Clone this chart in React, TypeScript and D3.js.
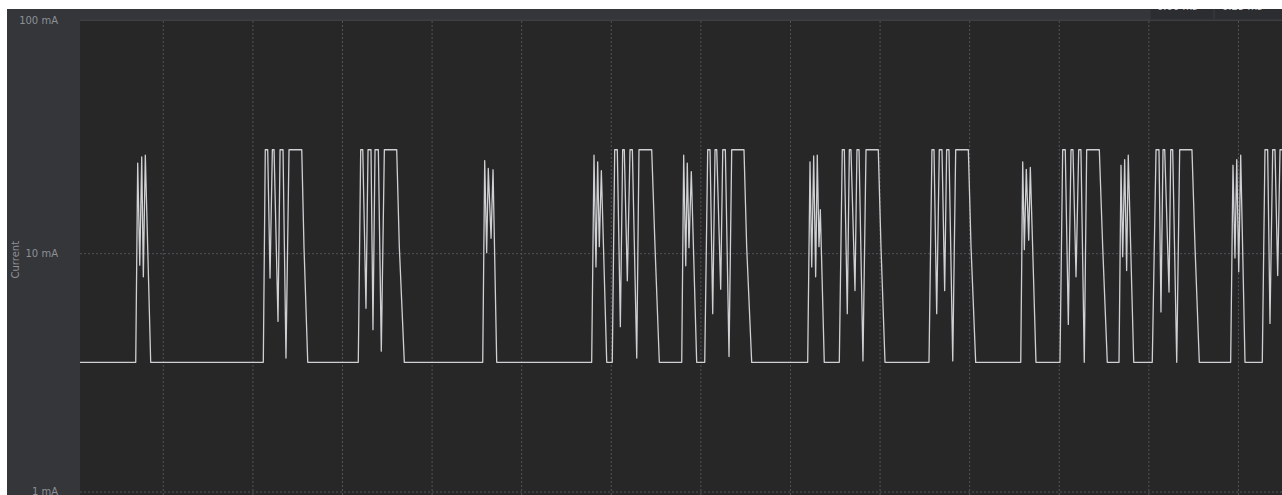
import React from "react"
import * as d3 from "d3"

// current trace: [time ms, current mA]
const trace: [number, number][] = [
  [0, 3.5],
  // burst 1
  [69.2, 3.5], [71.4, 24.0], [73.7, 8.95], [75.9, 25.5], [77.7, 8.0], [79.9, 25.9], [85.9, 3.5],
  // burst 2
  [211.6, 3.5], [213.8, 27.3], [216.5, 27.3], [219.1, 7.9], [221.7, 27.3], [223.6, 27.3],
  [228.0, 5.2], [230.3, 27.3], [233.6, 27.3], [236.9, 3.65], [240.3, 27.3], [254.5, 27.3],
  [257.0, 10.7], [261.2, 3.5],
  // burst 3
  [317.6, 3.5], [320.3, 27.3], [322.6, 27.3], [326.2, 5.9], [328.5, 27.3], [331.8, 27.3],
  [334.0, 4.8], [336.3, 27.3], [340.0, 27.3], [343.3, 3.9], [346.7, 27.3], [360.5, 27.3],
  [363.4, 10.7], [369.0, 3.5],
  // burst 4
  [456.5, 3.5], [458.7, 24.6], [460.9, 10.1], [462.7, 22.8], [465.8, 11.6], [468.0, 22.5], [472.1, 3.5],
  // burst 5
  [578.1, 3.5], [580.7, 25.9], [582.9, 8.8], [584.8, 24.3], [586.6, 10.7], [588.9, 22.3], [594.9, 3.5],
  // burst 6
  [601.1, 3.5], [603.8, 27.3], [606.7, 27.3], [610.1, 4.94], [612.7, 27.3], [614.5, 27.3],
  [617.9, 7.7], [620.9, 27.3], [623.5, 27.3], [628.4, 3.65], [630.9, 27.3], [645.1, 27.3],
  [648.8, 10.7], [653.6, 3.5],
  // burst 7
  [678.6, 3.5], [680.8, 25.9], [683.1, 8.9], [684.8, 24.0], [686.7, 10.6], [689.3, 22.1], [695.3, 3.5],
  // burst 8
  [704.3, 3.5], [707.6, 27.3], [710.2, 27.3], [713.2, 5.6], [715.8, 27.3], [717.7, 27.3],
  [722.1, 7.1], [724.4, 27.3], [727.3, 27.3], [731.4, 3.7], [734.4, 27.3], [748.1, 27.3],
  [751.1, 10.7], [756.7, 3.5],
  // burst 9
  [819.2, 3.5], [821.8, 24.3], [823.7, 8.8], [825.9, 25.7], [828.1, 8.0], [829.9, 25.9],
  [831.8, 10.7], [833.3, 15.3], [837.7, 3.5],
  // burst 10
  [854.5, 3.5], [857.8, 27.3], [860.1, 27.3], [863.4, 5.6], [865.7, 27.3], [867.5, 27.3],
  [872.0, 7.0], [874.2, 27.3], [876.5, 27.3], [880.9, 3.55], [884.3, 27.3], [898.0, 27.3],
  [901.0, 10.7], [905.5, 3.5],
  // burst 11
  [954.6, 3.5], [957.9, 27.3], [960.2, 27.3], [963.2, 5.6], [966.1, 27.3], [969.1, 27.3],
  [972.1, 7.0], [974.3, 27.3], [976.9, 27.3], [981.1, 3.55], [984.4, 27.3], [998.5, 27.3],
  [1001.5, 10.7], [1006.7, 3.5],
  // burst 12
  [1057.0, 3.5], [1059.2, 24.3], [1061.0, 10.4], [1063.2, 22.6], [1065.9, 11.4], [1067.7, 23.0], [1074.0, 3.5],
  // burst 13
  [1100.8, 3.5], [1103.8, 27.3], [1106.7, 27.3], [1110.1, 5.05], [1113.1, 27.3], [1115.3, 27.3],
  [1118.7, 8.0], [1121.7, 27.3], [1124.2, 27.3], [1127.9, 3.5], [1130.6, 27.3], [1144.7, 27.3],
  [1148.5, 10.6], [1153.6, 3.5],
  // burst 14
  [1166.7, 3.5], [1168.9, 23.5], [1170.8, 9.7], [1173.0, 24.8], [1175.2, 8.5], [1177.0, 25.9], [1183.1, 3.5],
  // burst 15
  [1203.8, 3.5], [1208.0, 27.3], [1211.3, 27.3], [1213.5, 5.7], [1215.8, 27.3], [1217.7, 27.3],
  [1222.5, 6.9], [1224.4, 27.3], [1226.6, 27.3], [1231.1, 3.5], [1234.4, 27.3], [1248.1, 27.3],
  [1251.5, 10.7], [1256.3, 3.5],
  // burst 16
  [1291.3, 3.5], [1293.9, 23.5], [1296.1, 9.6], [1298.1, 24.8], [1300.3, 8.4], [1302.5, 25.9], [1307.3, 3.5],
  // burst 17 (runs off the edge)
  [1326.6, 3.5], [1329.6, 27.3], [1332.6, 27.3], [1335.2, 5.1], [1338.2, 27.3], [1340.8, 27.3],
  [1343.8, 8.1], [1346.4, 27.3], [1352.0, 27.3],
]

const yTicks = [1, 10, 100]
const yTickLabels = ["1 mA", "10 mA", "100 mA"]
const timeGrid = [100, 200, 300, 400, 500, 600, 700, 800, 900, 1000, 1100, 1200, 1300]
const cursorLabels = ["0.00 ms", "0.25 ms"]

const W = 1282
const H = 495
const panel = { x: 7, y: 9 }
const plot = { left: 80, top: 21, right: 1282, bottom: 495 }

const App = () => {
  const x = d3.scaleLinear().domain([7, 1348.6]).range([plot.left, plot.right])
  const y = d3.scaleLog().domain([1, 100]).range([492, 15.4])

  const line = d3
    .line<[number, number]>()
    .x((d) => x(d[0]))
    .y((d) => y(d[1]))

  const font = "'DejaVu Sans', Verdana, sans-serif"

  return (
    <svg
      width={W}
      height={H}
      style={{ position: "absolute", left: 0, top: 0, display: "block" }}
    >
      <defs>
        <clipPath id="plot-clip">
          <rect x={plot.left} y={plot.top} width={plot.right - plot.left} height={plot.bottom - plot.top} />
        </clipPath>
        <clipPath id="head-clip">
          <rect x={1150} y={panel.y} width={W - 1150} height={11} />
        </clipPath>
      </defs>
      <rect x={0} y={0} width={W} height={H} fill="#ffffff" />
      <rect x={panel.x} y={panel.y} width={W - panel.x} height={H - panel.y} fill="#34363a" />
      <rect
        x={plot.left}
        y={plot.top}
        width={plot.right - plot.left}
        height={plot.bottom - plot.top}
        fill="#272728"
      />
      <line x1={plot.left} x2={W} y1={20.2} y2={20.2} stroke="#3c3e42" strokeWidth={1.5} />

      {/* cursor readout box, mostly scrolled out of view */}
      <rect x={1150.5} y={panel.y} width={W - 1150.5} height={10.5} fill="#2c2d31" />
      <line x1={1214} x2={1214} y1={panel.y} y2={19.5} stroke="#3c3e42" />
      <g clipPath="url(#head-clip)" fontFamily={font} fontSize={10} fill="#c9cbce">
        {cursorLabels.map((t, i) => (
          <text key={t} x={1157 + i * 65} y={9.8}>
            {t}
          </text>
        ))}
      </g>

      <g clipPath="url(#plot-clip)">
        {timeGrid.map((t) => (
          <line
            key={t}
            x1={x(t)}
            x2={x(t)}
            y1={plot.top}
            y2={plot.bottom}
            stroke="#525356"
            strokeDasharray="2,2"
          />
        ))}
        {yTicks.map((v) => (
          <line
            key={v}
            x1={plot.left}
            x2={plot.right}
            y1={y(v)}
            y2={y(v)}
            stroke="#525356"
            strokeDasharray="2,2"
          />
        ))}
        <path d={line(trace) ?? ""} fill="none" stroke="#cfd0d3" strokeWidth={1.3} strokeLinejoin="round" />
      </g>

      <g fontFamily={font} fontSize={10} fill="#8d9095">
        {yTicks.map((v, i) => (
          <text
            key={v}
            x={58}
            y={Math.min(Math.max(y(v), 20.5), 491)}
            textAnchor="end"
            dominantBaseline="central"
          >
            {yTickLabels[i]}
          </text>
        ))}
        <text
          transform={`translate(15, ${y(10) + 6}) rotate(-90)`}
          textAnchor="middle"
          dominantBaseline="central"
        >
          Current
        </text>
      </g>
    </svg>
  )
}

export default App
